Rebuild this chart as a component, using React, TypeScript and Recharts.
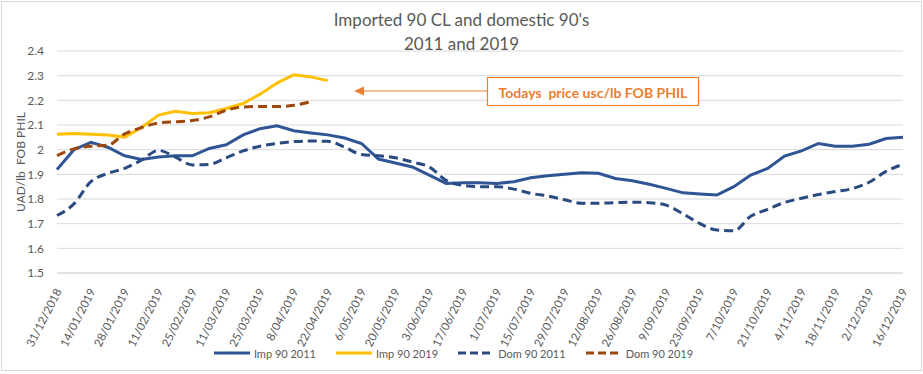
import React from "react";
import {
  LineChart,
  Line,
  XAxis,
  YAxis,
  CartesianGrid,
  Legend,
} from "recharts";

const weeks = [
  "31/12/2018", "7/01/2019", "14/01/2019", "21/01/2019", "28/01/2019", "4/02/2019",
  "11/02/2019", "18/02/2019", "25/02/2019", "4/03/2019", "11/03/2019", "18/03/2019",
  "25/03/2019", "1/04/2019", "8/04/2019", "15/04/2019", "22/04/2019", "29/04/2019",
  "6/05/2019", "13/05/2019", "20/05/2019", "27/05/2019", "3/06/2019", "10/06/2019",
  "17/06/2019", "24/06/2019", "1/07/2019", "8/07/2019", "15/07/2019", "22/07/2019",
  "29/07/2019", "5/08/2019", "12/08/2019", "19/08/2019", "26/08/2019", "2/09/2019",
  "9/09/2019", "16/09/2019", "23/09/2019", "30/09/2019", "7/10/2019", "14/10/2019",
  "21/10/2019", "28/10/2019", "4/11/2019", "11/11/2019", "18/11/2019", "25/11/2019",
  "2/12/2019", "9/12/2019", "16/12/2019",
];

const imp2011 = [
  1.92, 2.0, 2.03, 2.01, 1.975, 1.96, 1.97, 1.975, 1.975, 2.005,
  2.02, 2.06, 2.085, 2.097, 2.077, 2.068, 2.06, 2.047, 2.025, 1.962,
  1.946, 1.93, 1.897, 1.863, 1.866, 1.866, 1.863, 1.87, 1.886, 1.894,
  1.9, 1.906, 1.904, 1.883, 1.874, 1.86, 1.843, 1.825, 1.82, 1.816,
  1.85, 1.897, 1.924, 1.974, 1.995, 2.025, 2.014, 2.014, 2.022, 2.045, 2.05,
];

const imp2019 = [
  2.063, 2.066, 2.063, 2.059, 2.051, 2.09, 2.14, 2.156, 2.147, 2.15,
  2.167, 2.187, 2.225, 2.27, 2.304, 2.295, 2.28,
];

const dom2011 = [
  1.733, 1.78, 1.87, 1.904, 1.924, 1.958, 1.997, 1.97, 1.938, 1.94,
  1.967, 1.995, 2.014, 2.025, 2.033, 2.035, 2.034, 2.01, 1.98, 1.975,
  1.967, 1.95, 1.93, 1.876, 1.855, 1.85, 1.85, 1.84, 1.823, 1.812,
  1.797, 1.783, 1.783, 1.785, 1.787, 1.785, 1.775, 1.74, 1.7, 1.674,
  1.671, 1.73, 1.758, 1.786, 1.803, 1.818, 1.83, 1.842, 1.868, 1.912, 1.941,
];

const dom2019 = [
  1.976, 2.003, 2.014, 2.018, 2.064, 2.09, 2.108, 2.113, 2.118, 2.133,
  2.16, 2.173, 2.175, 2.175, 2.18, 2.194,
];

const yTicks = [1.5, 1.6, 1.7, 1.8, 1.9, 2.0, 2.1, 2.2, 2.3, 2.4];

const data = weeks.map((week, i) => ({
  week,
  imp2011: imp2011[i] ?? null,
  imp2019: imp2019[i] ?? null,
  dom2011: dom2011[i] ?? null,
  dom2019: dom2019[i] ?? null,
}));

const FONT = "Lato, 'Liberation Sans', sans-serif";
const GREY = "#595959";
const BLUE = "#2F5597";
const DARK_BLUE = "#2A4A82";
const GOLD = "#FFC000";
const BROWN = "#9E480E";
const ORANGE = "#ED7D31";

const legendItems = [
  { name: "Imp 90 2011", color: BLUE, dash: false },
  { name: "Imp 90 2019", color: GOLD, dash: false },
  { name: "Dom 90 2011", color: DARK_BLUE, dash: true },
  { name: "Dom 90 2019", color: BROWN, dash: true },
];

const DateTick = (props: any) => {
  const { x, y, payload } = props;
  return (
    <text
      transform={`translate(${x + 5},${y + 10}) rotate(-63)`}
      textAnchor="end"
      fontSize={11.5}
      fill={GREY}
      fontFamily={FONT}
    >
      {payload.value}
    </text>
  );
};

const LegendBox = () => (
  <div
    style={{
      display: "flex",
      justifyContent: "center",
      gap: 20,
      height: 20,
      alignItems: "center",
      fontFamily: FONT,
      fontSize: 11,
      color: GREY,
      paddingLeft: 4,
    }}
  >
    {legendItems.map((it) => (
      <div key={it.name} style={{ display: "flex", alignItems: "center", gap: 4 }}>
        <svg width={36} height={6}>
          <line
            x1={0}
            y1={3}
            x2={36}
            y2={3}
            stroke={it.color}
            strokeWidth={3}
            strokeDasharray={it.dash ? "8 4" : undefined}
          />
        </svg>
        <span>{it.name}</span>
      </div>
    ))}
  </div>
);

export default function App() {
  return (
    <div
      style={{
        position: "absolute",
        left: 0,
        top: 0,
        width: 923,
        height: 374,
        background: "#fff",
      }}
    >
      <div
        style={{
          position: "absolute",
          left: 1,
          top: 1,
          width: 919,
          height: 368,
          border: "1px solid #D9D9D9",
        }}
      />
      <div
        style={{
          position: "absolute",
          left: 0,
          top: 8,
          width: 923,
          textAlign: "center",
          fontFamily: FONT,
          fontSize: 17,
          lineHeight: "24px",
          color: GREY,
        }}
      >
        Imported 90 CL and domestic 90's
        <br />
        2011 and 2019
      </div>
      <LineChart
        width={923}
        height={374}
        data={data}
        margin={{ top: 51, right: 20, left: 0, bottom: 11 }}
      >
        <CartesianGrid vertical={false} stroke="#D9D9D9" />
        <XAxis
          dataKey="week"
          interval={1}
          height={70}
          tickLine={false}
          axisLine={{ stroke: "#D9D9D9" }}
          tick={<DateTick />}
        />
        <YAxis
          width={57}
          domain={[1.5, 2.4]}
          ticks={yTicks}
          tickLine={false}
          axisLine={false}
          tickSize={0}
          tickMargin={13}
          tick={{ fontSize: 12, fill: GREY, fontFamily: FONT }}
          tickFormatter={(v: number) => String(Number(v.toFixed(1)))}
          label={(p: any) => {
            const vb = p.viewBox;
            const cy = vb.y + vb.height / 2;
            return (
              <text
                x={20}
                y={cy}
                transform={`rotate(-90, 20, ${cy})`}
                textAnchor="middle"
                dominantBaseline="central"
                fontSize={12}
                fill={GREY}
                fontFamily={FONT}
                style={{ whiteSpace: "pre" }}
              >
                UAD/lb  FOB PHIL
              </text>
            );
          }}
        />
        <Legend verticalAlign="bottom" content={<LegendBox />} />
        <Line
          dataKey="imp2011"
          name="Imp 90 2011"
          stroke={BLUE}
          strokeWidth={3}
          dot={false}
          type="linear"
          isAnimationActive={false}
        />
        <Line
          dataKey="imp2019"
          name="Imp 90 2019"
          stroke={GOLD}
          strokeWidth={3}
          dot={false}
          type="linear"
          isAnimationActive={false}
        />
        <Line
          dataKey="dom2011"
          name="Dom 90 2011"
          stroke={DARK_BLUE}
          strokeWidth={3}
          strokeDasharray="9 5"
          dot={false}
          type="monotone"
          isAnimationActive={false}
        />
        <Line
          dataKey="dom2019"
          name="Dom 90 2019"
          stroke={BROWN}
          strokeWidth={3}
          strokeDasharray="9 5"
          dot={false}
          type="monotone"
          isAnimationActive={false}
        />
      </LineChart>
      <svg
        width={923}
        height={374}
        style={{ position: "absolute", left: 0, top: 0, pointerEvents: "none" }}
      >
        <line x1={487} y1={91} x2={362} y2={91} stroke={ORANGE} strokeWidth={1.2} />
        <polygon points="354,91 364,86.5 364,95.5" fill={ORANGE} />
        <rect x={487.5} y={77.5} width={211} height={28} fill="#fff" stroke={ORANGE} strokeWidth={1.2} />
        <text
          x={593}
          y={92}
          textAnchor="middle"
          dominantBaseline="central"
          fontFamily={FONT}
          fontWeight="bold"
          fontSize={14}
          fill={ORANGE}
          style={{ whiteSpace: "pre" }}
        >
          Todays  price usc/lb FOB PHIL
        </text>
      </svg>
    </div>
  );
}
